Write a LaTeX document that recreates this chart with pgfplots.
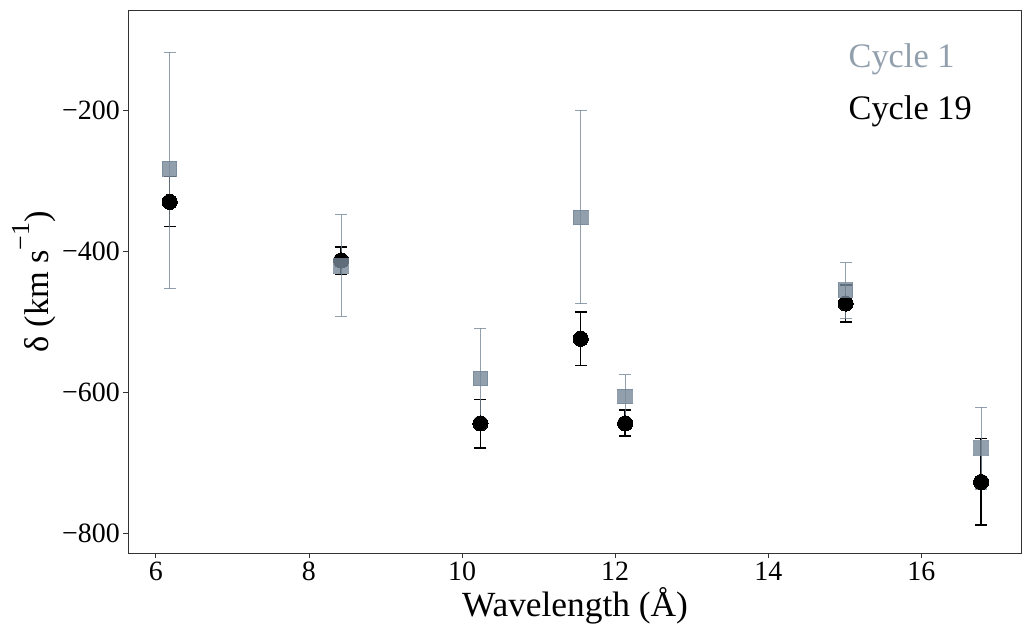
\documentclass[border=0pt]{standalone}
\usepackage{fontspec}
\setmainfont{Liberation Serif}
\usepackage{pgfplots}
\pgfplotsset{compat=1.18}
\definecolor{c1}{RGB}{119,136,153}
\definecolor{c1text}{RGB}{146,160,173}

\pgfplotstableread{
x y ep em
6.18 -330 36 35
8.42 -413 19 20
10.24 -644 34 35
11.55 -524 38 38
12.13 -644 19 18
15.01 -474 26 26
16.78 -727 62 61
}\cycleNineteen

\pgfplotstableread{
x y ep em
6.18 -283 165 170
8.42 -421 73 71
10.24 -580 71 71
11.55 -352 152 122
12.13 -606 31 31
15.01 -455 39 40
16.78 -679 58 58
}\cycleOne

\begin{document}
\begin{tikzpicture}
\begin{axis}[name=ax, scale only axis, width=893.4bp, height=543.3bp,
  xmin=5.64, xmax=17.31, ymin=-828, ymax=-58,
  xtick={6,8,10,12,14,16}, xticklabels={6,8,10,12,14,16},
  ytick={-800,-600,-400,-200}, yticklabels={−800,−600,−400,−200},
  tick pos=left,
  tick align=outside, major tick length=5bp,
  tick style={line width=0.8bp, color=black!80},
  axis line style={line width=0.8bp, black!80},
  ticklabel style={font=\fontsize{28}{28}\selectfont},
  xlabel={Wavelength (Å)},
  ylabel={δ (km s\raisebox{0.55em}{\fontsize{26}{26}\selectfont −1})},
  label style={font=\fontsize{35.5}{35.5}\selectfont},
  ylabel style={font=\fontsize{34.5}{34.5}\selectfont},
  clip=false,
]
\addplot[only marks, mark=*, black, mark size=7.6bp,
  mark options={fill=black, draw=black, line width=0pt},
  error bars/.cd, y dir=both, y explicit,
  error bar style={line width=1.4bp, black},
  error mark options={rotate=90, mark size=6bp, line width=1.4bp, black}]
  table[x=x, y=y, y error plus=ep, y error minus=em] {\cycleNineteen};
\addplot[only marks, mark=square*, c1, opacity=0.8, mark size=7.3bp,
  mark options={fill=c1, draw=c1, line width=0pt},
  error bars/.cd, y dir=both, y explicit,
  error bar style={line width=1.2bp, c1, opacity=0.8},
  error mark options={rotate=90, mark size=6bp, line width=1.2bp, c1}]
  table[x=x, y=y, y error plus=ep, y error minus=em] {\cycleOne};
\node[anchor=base west, text=c1text, font=\fontsize{34.5}{34.5}\selectfont, inner sep=0pt]
  at (rel axis cs:0.806,0.895) {Cycle 1};
\node[anchor=base west, text=black, font=\fontsize{34.5}{34.5}\selectfont, inner sep=0pt]
  at (rel axis cs:0.806,0.799) {Cycle 19};
\end{axis}
\path (ax.south west) ++(-128.3bp,-81.7bp) coordinate (bl);
\path (ax.north east) ++(9.3bp,10bp) coordinate (tr);
\pgfresetboundingbox
\path (bl) rectangle (tr);
\end{tikzpicture}
\end{document}
